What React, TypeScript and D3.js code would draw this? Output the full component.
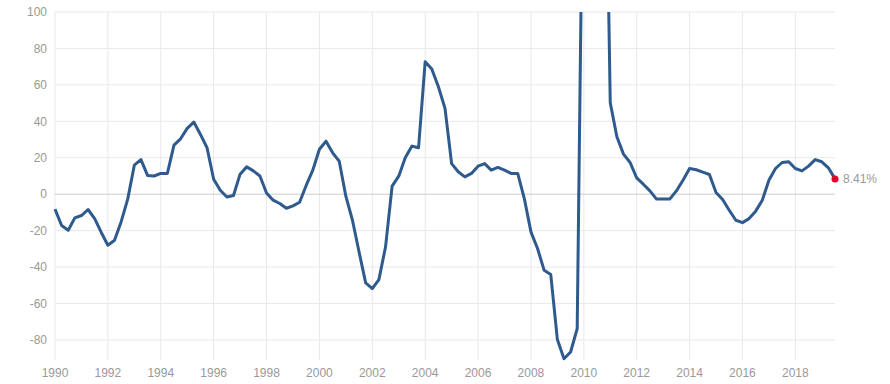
import React from "react";
import * as d3 from "d3";

// quarterly % change, 1990 Q1 .. 2019 Q3
const startYear = 1990;
const values = [
  -8.2, -17.2, -19.8, -13,
  -11.7, -8.4, -13.4, -21,
  -28, -25.3, -15.2, -2.7,
  15.9, 19, 10.3, 10,
  11.4, 11.4, 26.9, 30.4,
  36.1, 39.6, 32.8, 25.5,
  8.2, 2.2, -1.5, -0.7,
  11, 15, 12.8, 10,
  0.7, -3.3, -5.1, -7.7,
  -6.4, -4.4, 4.8, 13.2,
  24.7, 29.1, 22.7, 18.1,
  -1.1, -14.3, -31.7, -48.7,
  -51.8, -46.9, -29, 4.4,
  9.9, 20.1, 26.4, 25.5,
  72.7, 68.7, 59, 47.1,
  16.8, 12.3, 9.5, 11.4,
  15.4, 16.8, 13.2, 14.7,
  13.2, 11.4, 11.4, -2.4,
  -20.7, -29.8, -41.8, -44.1,
  -79.8, -90.3, -86.6, -73.8,
  233, 290, 300, 270,
  50.2, 31.5, 22, 17.4,
  9, 5.5, 1.8, -2.7,
  -2.6, -2.7, 1.8, 7.7,
  14.1, 13.4, 12.1, 10.8,
  0.9, -2.9, -8.8, -14.3,
  -15.6, -13.4, -9.3, -3.3,
  7.7, 14.1, 17.4, 17.8,
  14.1, 12.8, 15.4, 19,
  17.8, 14.5, 8.41,
];
const yTicks = [-80, -60, -40, -20, 0, 20, 40, 60, 80, 100];
const xTicks = d3.range(1990, 2019, 2);

const width = 890;
const height = 384;

export default function App() {
  const pts = values.map((v, i) => ({ t: startYear + i / 4, v }));
  const last = pts[pts.length - 1];

  const x = d3.scaleLinear().domain([1990, last.t]).range([55, 835]);
  const y = d3.scaleLinear().domain([-91, 100]).range([360, 12]);

  const line = d3
    .line<{ t: number; v: number }>()
    .x(d => x(d.t))
    .y(d => y(d.v));

  const [x0, x1] = x.range();
  const [y0, y1] = y.range();

  return (
    <svg
      width={width}
      height={height}
      style={{ position: "absolute", left: 0, top: 0 }}
      fontFamily="'Liberation Sans', Arial, sans-serif"
    >
      <defs>
        <clipPath id="plot">
          <rect x={x0 - 2} y={y1} width={x1 - x0 + 10} height={y0 - y1 + 2} />
        </clipPath>
      </defs>

      {xTicks.map(t => (
        <line key={"vx" + t} x1={x(t)} x2={x(t)} y1={y1} y2={y0} stroke="#e9e9e9" />
      ))}
      {yTicks.map(t => (
        <line
          key={"hy" + t}
          x1={x0}
          x2={x1}
          y1={y(t)}
          y2={y(t)}
          stroke={t === 0 ? "#cccccc" : "#e9e9e9"}
        />
      ))}

      {yTicks.map(t => (
        <text key={"ly" + t} x={47} y={y(t)} dy="0.35em" textAnchor="end" fontSize={12} fill="#999">
          {t}
        </text>
      ))}
      {xTicks.map(t => (
        <text key={"lx" + t} x={x(t)} y={377} textAnchor="middle" fontSize={12} fill="#999">
          {t}
        </text>
      ))}

      <path
        d={line(pts) || ""}
        fill="none"
        stroke="#2e5a8e"
        strokeWidth={3}
        strokeLinejoin="round"
        clipPath="url(#plot)"
      />
      <circle cx={x(last.t)} cy={y(last.v)} r={3.5} fill="#e8002a" />
      <text x={x(last.t) + 8} y={y(last.v)} dy="0.35em" fontSize={12} fill="#999">
        {last.v.toFixed(2)}%
      </text>
    </svg>
  );
}
